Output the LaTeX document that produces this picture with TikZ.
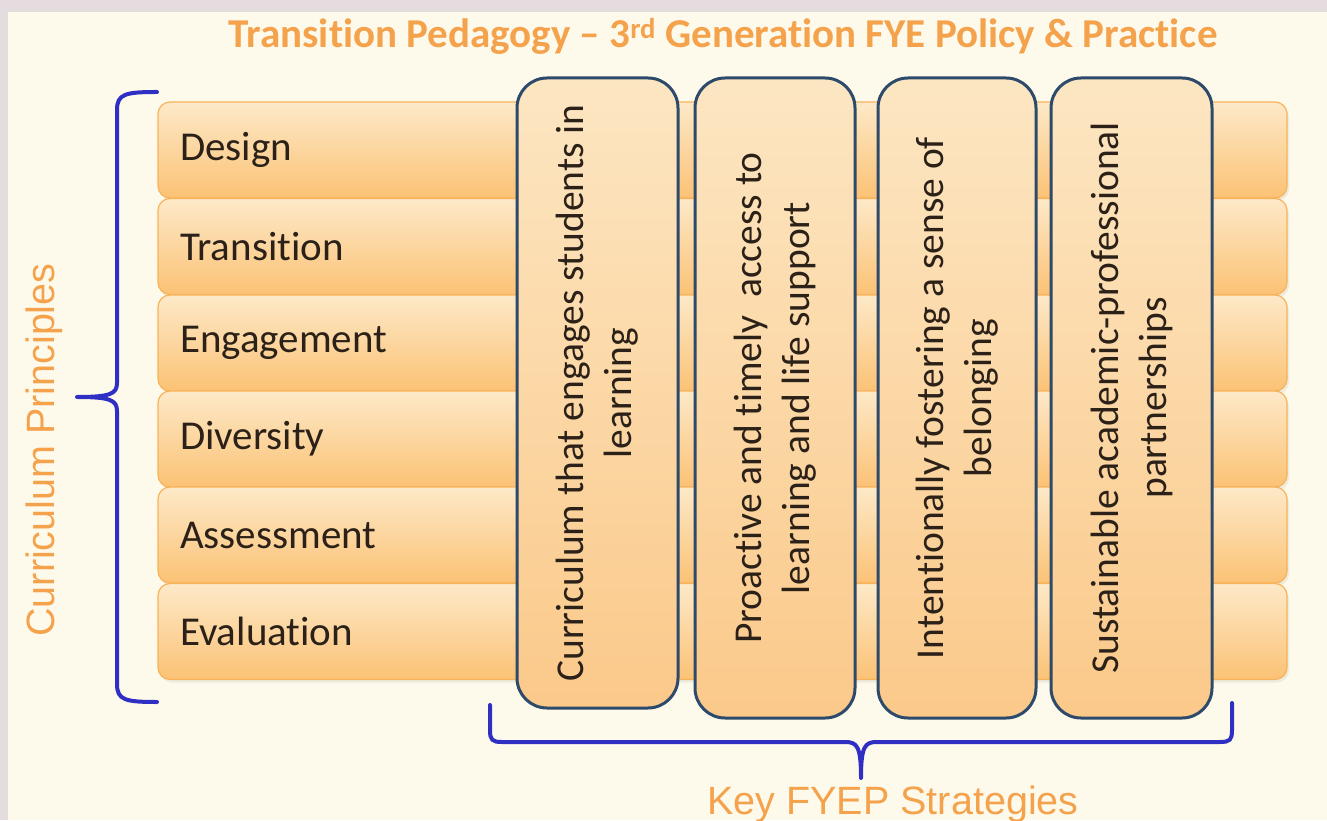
\documentclass[tikz,border=0pt]{standalone}
\usepackage{fontspec}
\setmainfont{Carlito}[Ligatures=NoCommon]
\newfontfamily\arialf{Liberation Sans}
\usetikzlibrary{shadows}
\definecolor{framegray}{HTML}{E4DCDE}
\definecolor{cream}{HTML}{FDFAEC}
\definecolor{ttlorange}{HTML}{F5A24C}
\definecolor{rowtop}{HTML}{FDE9C8}
\definecolor{rowbot}{HTML}{FBC275}
\definecolor{rowedge}{HTML}{F8B35A}
\definecolor{boxtop}{HTML}{FCE6C2}
\definecolor{boxbot}{HTML}{FBC98A}
\definecolor{boxedge}{HTML}{2E4A6B}
\definecolor{bracecol}{HTML}{2F2FC4}
\definecolor{txtdark}{HTML}{2B2118}
\tikzset{
  rowbar/.style={rectangle, rounded corners=12pt, draw=rowedge, line width=1.2pt,
    top color=rowtop, bottom color=rowbot, minimum width=1129pt, minimum height=96pt,
    text width=1085pt, align=left, inner xsep=22pt, text=txtdark,
    font=\fontsize{41}{46}\selectfont,
    drop shadow={opacity=0.12, shadow xshift=2pt, shadow yshift=-3pt}},
  stratbox/.style={rectangle, rounded corners=30pt, draw=boxedge, line width=3pt,
    top color=boxtop, bottom color=boxbot},
  strattext/.style={rotate=90, align=center, text=txtdark,
    font=\fontsize{39.5}{48}\selectfont},
  bracepath/.style={draw=bracecol, line width=4pt, line cap=round, line join=round},
  sidelabel/.style={text=ttlorange, font=\arialf\fontsize{39.5}{44}\selectfont}
}
\begin{document}
\begin{tikzpicture}[x=1pt,y=1pt]
\useasboundingbox (0,0) rectangle (1327,820);
\fill[framegray] (0,0) rectangle (1327,820);
\fill[cream] (8,0) rectangle (1327,808);

% title
\node[text=ttlorange, font=\bfseries\fontsize{41}{46}\selectfont] (title) at (723,784)
  {Transition Pedagogy -- 3\textsuperscript{rd} Generation FYE Policy \& Practice};

% rows (curriculum principles)
\node[rowbar] (r1) at (722.5,670) {Design};
\node[rowbar] (r2) at (722.5,573.5) {Transition};
\node[rowbar] (r3) at (722.5,477) {Engagement};
\node[rowbar] (r4) at (722.5,381) {Diversity};
\node[rowbar] (r5) at (722.5,285) {Assessment};
\node[rowbar] (r6) at (722.5,188.5) {Evaluation};

% strategy boxes
\node[stratbox, minimum width=161pt, minimum height=630pt] (b1) at (597.5,427) {};
\node[stratbox, minimum width=160pt, minimum height=640pt] (b2) at (775,422) {};
\node[stratbox, minimum width=158pt, minimum height=640pt] (b3) at (957,422) {};
\node[stratbox, minimum width=161pt, minimum height=640pt] (b4) at (1131.5,422) {};

\node[strattext] (t1) at (b1.center) {Curriculum that engages students in\\learning};
\node[strattext] (t2) at (b2.center) {Proactive and timely \ access to\\learning and life support};
\node[strattext] (t3) at (b3.center) {Intentionally fostering a sense of\\belonging};
\node[strattext] (t4) at (b4.center) {Sustainable academic-professional\\partnerships};

% left brace
\coordinate (lbtop) at (157,728);
\coordinate (lbtip) at (77,423);
\coordinate (lbbot) at (157,118);
\draw[bracepath] (lbtop) .. controls (125,728) and (117,726) .. (117,710) -- (117,437)
  .. controls (117,426) and (110,423) .. (lbtip)
  .. controls (110,423) and (117,420) .. (117,409) -- (117,136)
  .. controls (117,120) and (125,118) .. (lbbot);

% bottom brace
\coordinate (bbl) at (490,115);
\coordinate (bbtip) at (861,42);
\coordinate (bbr) at (1232,117);
\draw[bracepath] (bbl) -- (490,90) .. controls (490,80) and (492,78) .. (502,78) -- (845,78)
  .. controls (857,78) and (861,74) .. (bbtip)
  .. controls (861,74) and (865,78) .. (877,78) -- (1220,78)
  .. controls (1230,78) and (1232,80) .. (1232,90) -- (bbr);

% side labels
\node[sidelabel, rotate=90] (cp) at (44,370) {Curriculum Principles};
\node[sidelabel, anchor=base] (kfs) at (893,6) {Key FYEP Strategies};
\end{tikzpicture}
\end{document}
